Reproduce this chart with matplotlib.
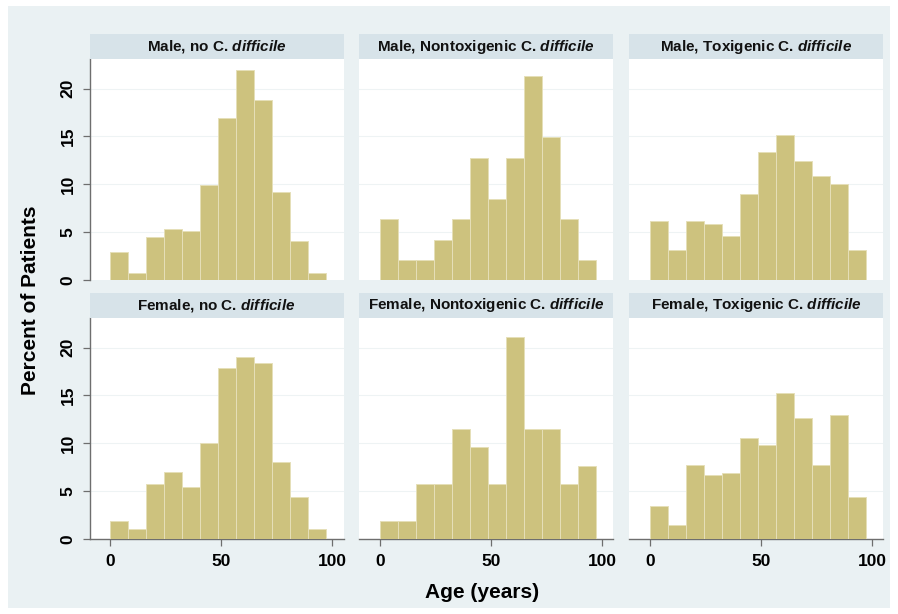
import numpy as np
import matplotlib
matplotlib.use("Agg")
import matplotlib.pyplot as plt
from matplotlib.patches import Rectangle

plt.rcParams['font.family'] = ['Liberation Sans', 'DejaVu Sans']
plt.rcParams['mathtext.fontset'] = 'custom'
plt.rcParams['mathtext.bfit'] = 'Liberation Sans:italic:bold'
plt.rcParams['mathtext.it'] = 'Liberation Sans:italic'
plt.rcParams['mathtext.rm'] = 'Liberation Sans'

# ---- data ----
bin_edges = np.linspace(0, 97, 13)
titles = [
    "Male, no C. ", "Male, Nontoxigenic C. ", "Male, Toxigenic C. ",
    "Female, no C. ", "Female, Nontoxigenic C. ", "Female, Toxigenic C. ",
]
male_no = [2.9, 0.7, 4.5, 5.35, 5.1, 9.9, 16.9, 22.0, 18.8, 9.2, 4.1, 0.7]
male_nontox = [6.4, 2.1, 2.1, 4.2, 6.4, 12.7, 8.5, 12.7, 21.3, 14.9, 6.4, 2.1]
male_tox = [6.2, 3.1, 6.2, 5.9, 4.6, 9.0, 13.4, 15.2, 12.45, 10.9, 10.0, 3.1]
female_no = [1.85, 1.0, 5.7, 7.0, 5.4, 10.0, 17.9, 19.0, 18.4, 8.0, 4.4, 1.0]
female_nontox = [1.85, 1.85, 5.75, 5.75, 11.55, 9.65, 5.75, 21.1, 11.55, 11.55, 5.75, 7.65]
female_tox = [3.4, 1.5, 7.7, 6.7, 6.95, 10.6, 9.8, 15.25, 12.65, 7.7, 12.95, 4.4]
series = [male_no, male_nontox, male_tox, female_no, female_nontox, female_tox]
y_ticks = [0, 5, 10, 15, 20]
x_ticks = [0, 50, 100]

W, H = 898, 614
fig = plt.figure(figsize=(W / 100, H / 100), dpi=100)
fig.patch.set_facecolor('white')
bg = '#EAF1F3'
fig.patches.append(Rectangle((8 / W, 6 / H), (W - 16) / W, (H - 12) / H,
                             transform=fig.transFigure, facecolor=bg,
                             edgecolor='none', zorder=-10))

bar_color = '#CDC27E'
strip_color = '#D7E3E9'
axis_color = '#6E6E6E'

col_left = [89.5, 359.3, 629.3]
col_w = 254.0
row_top = [59.0, 318.0]
row_h = 221.0
strip_h = 25.0

for i, vals in enumerate(series):
    r, c = divmod(i, 3)
    left = col_left[c] / W
    bottom = 1 - (row_top[r] + row_h) / H
    ax = fig.add_axes([left, bottom, col_w / W, row_h / H])
    ax.set_facecolor('white')
    ax.bar(bin_edges[:-1], vals, width=np.diff(bin_edges), align='edge',
           color=bar_color, edgecolor='#E6DFB8', linewidth=0.7, zorder=3)
    ax.set_xlim(-9.3, 105)
    ax.set_ylim(0, 23.1)
    for yv in y_ticks[1:]:
        ax.axhline(yv, color='#EEF3F4', linewidth=0.8, zorder=1)
    for s in ['top', 'right']:
        ax.spines[s].set_visible(False)
    # y axis
    if c == 0:
        ax.spines['left'].set_color(axis_color)
        ax.spines['left'].set_linewidth(1.0)
        ax.set_yticks(y_ticks)
        ax.set_yticklabels([str(v) for v in y_ticks], rotation=90,
                           va='center', fontsize=12.5, fontweight='bold')
        ax.tick_params(axis='y', length=5, width=0.9, color=axis_color, pad=5)
    else:
        ax.spines['left'].set_visible(False)
        ax.set_yticks([])
    # x axis
    if r == 1:
        ax.spines['bottom'].set_color(axis_color)
        ax.spines['bottom'].set_linewidth(1.0)
        ax.set_xticks(x_ticks)
        ax.set_xticklabels([str(v) for v in x_ticks], fontsize=12.5,
                           fontweight='bold')
        ax.tick_params(axis='x', length=5, width=0.9, color=axis_color, pad=6)
    else:
        ax.spines['bottom'].set_visible(False)
        ax.set_xticks([])
    # strip title
    sh = strip_h / row_h
    ax.add_patch(Rectangle((-0.0, 1.0), 1.0, sh, transform=ax.transAxes,
                           facecolor=strip_color, edgecolor='none',
                           clip_on=False, zorder=5))
    ax.text(0.5, 1.0 + sh / 2, titles[i] + r"$\mathbfit{difficile}$",
            transform=ax.transAxes, ha='center', va='center',
            fontsize=11, fontweight='bold', color='#111111', zorder=6)

fig.text(31 / W, 1 - 300 / H, "Percent of Patients", rotation=90,
         ha='center', va='center', fontsize=15, fontweight='bold')
fig.text(482 / W, 1 - 593 / H, "Age (years)", ha='center', va='center',
         fontsize=15, fontweight='bold')

fig.savefig('out.png', dpi=100, facecolor=fig.get_facecolor())
